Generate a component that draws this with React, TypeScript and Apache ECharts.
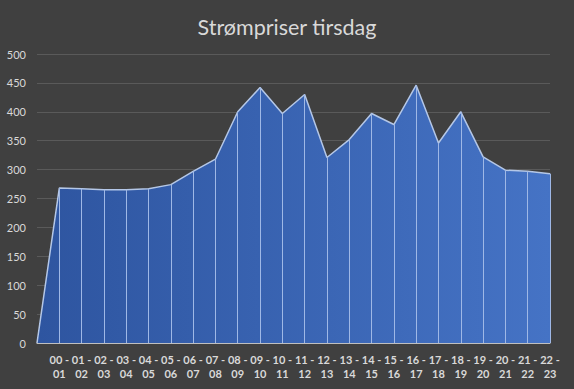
import React, { useEffect, useRef } from "react";
import * as echarts from "echarts";

const categories = ["", "00 - 01", "01 - 02", "02 - 03", "03 - 04", "04 - 05", "05 - 06", "06 - 07", "07 - 08", "08 - 09", "09 - 10", "10 - 11", "11 - 12", "12 - 13", "13 - 14", "14 - 15", "15 - 16", "16 - 17", "17 - 18", "18 - 19", "19 - 20", "20 - 21", "21 - 22", "22 - 23"];
const prices = [0, 268, 267, 265, 265, 267, 274, 297, 318, 400, 442, 397, 430, 321, 352, 397, 378, 446, 346, 400, 322, 299, 297, 293];
const yMin = 0;
const yMax = 500;
const yStep = 50;
const title = "Strømpriser tirsdag";

export default function App() {
  const ref = useRef<HTMLDivElement>(null);
  useEffect(() => {
    if (!ref.current) return;
    const chart = echarts.init(ref.current, null, { renderer: "svg" });
    const font = "Lato, 'Open Sans', sans-serif";
    chart.setOption({
      animation: false,
      backgroundColor: "#404040",
      title: {
        text: title,
        left: "center",
        top: 11,
        textStyle: { color: "#d9d9d9", fontSize: 21.5, fontWeight: "normal", fontFamily: font },
      },
      grid: { left: 37, right: 24, top: 54, bottom: 46, containLabel: false },
      xAxis: {
        type: "category",
        data: categories,
        boundaryGap: false,
        axisLine: { show: true, lineStyle: { color: "#bfbfbf", width: 1 } },
        axisTick: { show: false },
        axisLabel: {
          interval: 0,
          color: "#d9d9d9",
          fontSize: 11,
          fontWeight: "bold",
          fontFamily: font,
          lineHeight: 14.5,
          margin: 9,
          formatter: (v: string) => v.replace(" - ", " -\n"),
        },
        splitLine: { show: false },
      },
      yAxis: {
        type: "value",
        min: yMin,
        max: yMax,
        interval: yStep,
        axisLine: { show: false },
        axisTick: { show: false },
        axisLabel: { color: "#d9d9d9", fontSize: 11, fontFamily: font, margin: 11 },
        splitLine: { lineStyle: { color: "#5a5a5a", width: 1 } },
      },
      series: [
        {
          type: "line",
          data: prices,
          symbol: "none",
          lineStyle: { color: "#b4c7e7", width: 1.5 },
          areaStyle: {
            opacity: 1,
            color: new echarts.graphic.LinearGradient(0, 0, 1, 0, [
              { offset: 0, color: "#2e55a0" },
              { offset: 1, color: "#4573c5" },
            ]),
          },
          markLine: {
            silent: true,
            symbol: ["none", "none"],
            label: { show: false },
            lineStyle: { color: "#9fb8e6", width: 1, type: "solid" },
            data: prices
              .map((v, i) => [
                { coord: [i, 0] },
                { coord: [i, v] },
              ])
              .filter((_, i) => prices[i] > 0),
          },
        },
      ],
    });
    return () => chart.dispose();
  }, []);
  return (
    <div
      ref={ref}
      style={{ position: "fixed", left: 0, top: 0, width: 574, height: 389 }}
    />
  );
}
